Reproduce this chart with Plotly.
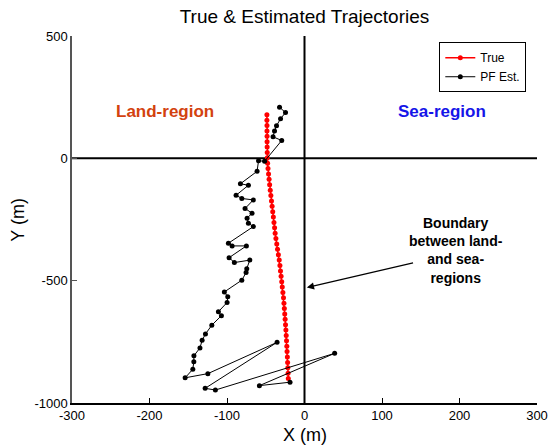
import plotly.graph_objects as go

# True trajectory (m)
true_x = [-48.5, -48.5, -48.4, -48.4, -48.3, -48.3, -48.2, -48.1, -48.0, -47.6,
          -47.1, -46.4, -45.7, -45.0, -44.2, -43.4, -42.6, -41.8, -41.0, -40.2,
          -39.4, -38.6, -37.9, -36.9, -35.8, -34.8, -33.7, -32.6, -31.7, -31.0,
          -30.2, -29.4, -28.7, -27.9, -27.1, -26.5, -26.0, -25.5, -25.0, -24.5,
          -24.0, -23.6, -23.2, -22.8, -22.5, -22.1, -21.8, -21.5, -21.2, -20.9]
true_y = [178, 156, 134, 112, 90, 68, 46, 24, 2, -20,
          -42, -64, -86, -108, -130, -152, -174, -196, -218, -240,
          -262, -284, -306, -328, -350, -372, -394, -416, -438, -460,
          -482, -504, -526, -548, -570, -592, -614, -636, -658, -680,
          -702, -724, -746, -768, -790, -812, -834, -856, -878, -900]

# Particle-filter estimate (m)
pf_x = [-32.2, -24.5, -30.9, -36.1, -38.7, -40.6, -29.4, -51.5, -59.3, -61.2,
        -82.7, -72.4, -88.3, -80.9, -66.0, -76.7, -67.7, -74.1, -72.4, -66.0,
        -98.2, -93.4, -75.0, -97.3, -90.5, -70.6, -74.5, -75.4, -80.9, -103.4,
        -99.0, -99.9, -111.1, -107.2, -119.6, -127.8, -132.1, -134.9, -142.7, -142.8,
        -144.1, -154.0, -124.7, -35.4, -128.2, -115.0, 38.9, -58.2, -18.7]
pf_y = [209, 187, 162, 133, 112, 88, 73, -12, -10, -53,
        -104, -110, -151, -164, -170, -205, -224, -245, -265, -279,
        -347, -358, -358, -406, -426, -416, -451, -467, -498, -546,
        -566, -589, -627, -643, -682, -718, -744, -775, -807, -831,
        -862, -897, -880, -752, -940, -947, -797, -929, -915]

x_range = [-300, 300]
y_range = [-1000, 500]
x_ticks = [-300, -200, -100, 0, 100, 200, 300]
x_tick_labels = ["-300", "-200", "-100", "0", "100", "200", "300"]
y_ticks = [-1000, -500, 0, 500]
y_tick_labels = ["-1000", "-500", "0", "500"]
boundary_x = 0
coast_y = 0

FONT = "Liberation Sans, Arial, sans-serif"

fig = go.Figure()

fig.add_trace(go.Scatter(
    x=true_x, y=true_y, mode="lines+markers", name="True",
    line=dict(color="red", width=1.5),
    marker=dict(color="red", size=5, symbol="circle"),
))
fig.add_trace(go.Scatter(
    x=pf_x, y=pf_y, mode="lines+markers", name="PF Est.",
    line=dict(color="black", width=1),
    marker=dict(color="black", size=5, symbol="circle"),
))

# land/sea boundary and the zero-northing line
fig.add_shape(type="line", xref="x", yref="y",
              x0=boundary_x, x1=boundary_x, y0=y_range[0], y1=y_range[1],
              line=dict(color="black", width=2), layer="below")
fig.add_shape(type="line", xref="x", yref="y",
              x0=x_range[0], x1=x_range[1], y0=coast_y, y1=coast_y,
              line=dict(color="black", width=2), layer="below")

annotations = [
    dict(x=-180, y=192, xref="x", yref="y", text="<b>Land-region</b>",
         showarrow=False, font=dict(family=FONT, size=17, color="#D3420F")),
    dict(x=177, y=192, xref="x", yref="y", text="<b>Sea-region</b>",
         showarrow=False, font=dict(family=FONT, size=17, color="#1515E8")),
    dict(x=196, y=-375, xref="x", yref="y",
         text="<b>Boundary<br>between land-<br>and sea-<br>regions</b>",
         showarrow=False, align="center",
         font=dict(family=FONT, size=14, color="black")),
    dict(x=3, y=-528, ax=142, ay=-426, xref="x", yref="y", axref="x", ayref="y",
         text="", showarrow=True, arrowhead=2, arrowsize=1.2, arrowwidth=1.2,
         arrowcolor="black"),
    dict(x=0.5, y=-0.088, xref="paper", yref="paper", text="X (m)",
         showarrow=False, yanchor="middle",
         font=dict(family=FONT, size=18, color="black")),
    dict(x=-0.118, y=0.5, xref="paper", yref="paper", text="Y (m)",
         showarrow=False, textangle=-90, xanchor="center", yanchor="middle",
         font=dict(family=FONT, size=18, color="black")),
]

fig.update_layout(
    width=548, height=446,
    margin=dict(l=72, r=11, t=36, b=43, autoexpand=False),
    paper_bgcolor="white", plot_bgcolor="white",
    font=dict(family=FONT, size=13, color="black"),
    title=dict(text="True & Estimated Trajectories", x=0.5, xref="paper",
               y=0.963, yref="container", yanchor="middle",
               font=dict(family=FONT, size=19, color="black")),
    showlegend=True,
    legend=dict(x=0.977, y=0.983, xanchor="right", yanchor="top",
                bgcolor="white", bordercolor="black", borderwidth=1,
                font=dict(family=FONT, size=12, color="black"),
                itemwidth=30, tracegroupgap=0),
    annotations=annotations,
)

fig.update_xaxes(range=x_range, tickvals=x_ticks, ticktext=x_tick_labels,
                 showgrid=False, zeroline=False, automargin=False,
                 showline=True, linecolor="black", linewidth=1.5,
                 ticks="inside", ticklen=5, tickcolor="black",
                 tickfont=dict(family=FONT, size=13, color="black"))
fig.update_yaxes(range=y_range, tickvals=y_ticks, ticktext=y_tick_labels,
                 showgrid=False, zeroline=False, automargin=False,
                 showline=True, linecolor="#555555", linewidth=1.5,
                 ticks="inside", ticklen=5, tickcolor="#555555",
                 tickfont=dict(family=FONT, size=13, color="black"))

fig.write_html("out.html")
